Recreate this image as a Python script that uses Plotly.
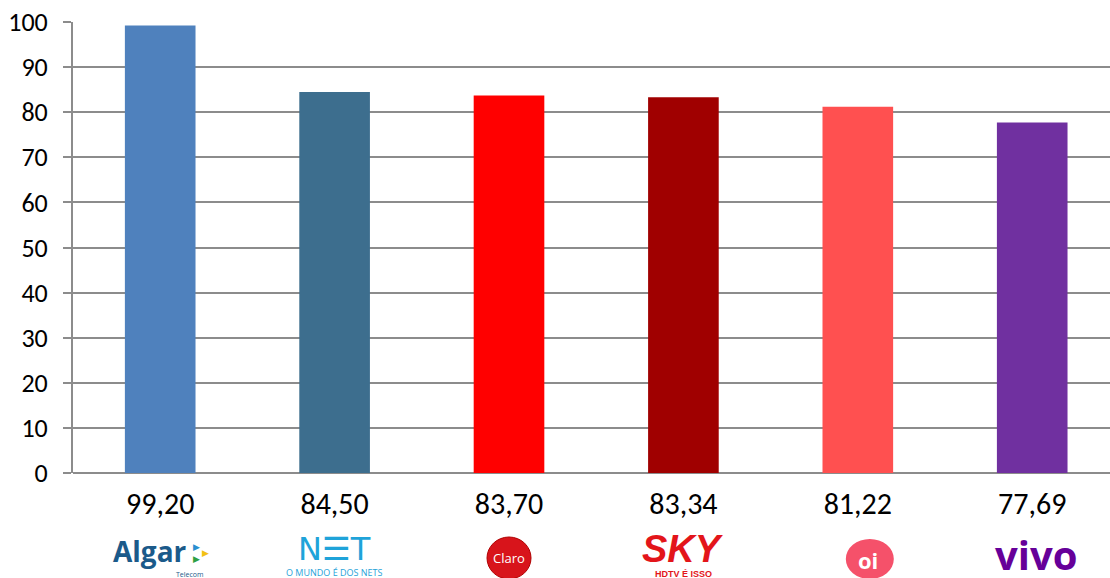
import plotly.graph_objects as go

companies = ["Algar", "NET", "Claro", "SKY", "Oi", "Vivo"]
scores = [99.20, 84.50, 83.70, 83.34, 81.22, 77.69]
bar_colors = ["#4F81BD", "#3D6E8E", "#FF0000", "#A00000", "#FF5050", "#7030A0"]
y_ticks = [0, 10, 20, 30, 40, 50, 60, 70, 80, 90, 100]

value_labels = [f"{v:.2f}".replace(".", ",") for v in scores]

FONT = "Carlito, Calibri, 'Open Sans', sans-serif"

fig = go.Figure()
fig.add_trace(go.Bar(
    x=companies, y=scores, marker=dict(color=bar_colors, line=dict(width=0)),
    width=0.405, hoverinfo="skip",
))

fig.update_layout(
    width=1110, height=578,
    margin=dict(l=73, r=0, t=22, b=105),
    paper_bgcolor="white", plot_bgcolor="white",
    showlegend=False,
    font=dict(family=FONT, color="black"),
    xaxis=dict(
        tickmode="array", tickvals=companies, ticktext=value_labels,
        range=[-0.5, 5.446],
        tickfont=dict(size=30, family=FONT), ticks="", showgrid=False,
        showline=False, zeroline=False, ticklabelstandoff=10,
    ),
    yaxis=dict(
        range=[0, 100], tickvals=y_ticks, tickfont=dict(size=26, family=FONT),
        showgrid=True, gridcolor="#8C8C8C", gridwidth=2,
        showline=True, linecolor="#8C8C8C", linewidth=2,
        ticks="outside", ticklen=8, tickcolor="#8C8C8C", tickwidth=2,
        zeroline=True, zerolinecolor="#8C8C8C", zerolinewidth=2,
        ticklabelstandoff=10,
    ),
)

ly = -0.1885


def logo_text(cat, text, size, color, family="Open Sans, sans-serif", dx=0, dy=0):
    fig.add_annotation(x=cat, y=ly, xref="x", yref="paper", xshift=dx, yshift=dy,
                       xanchor="center", yanchor="middle", showarrow=False,
                       text=text, font=dict(size=size, color=color, family=family))


# Algar
logo_text("Algar", "<b>Algar</b>", 28, "#1B5A8A", dx=-10, dy=7)
logo_text("Algar", "▶", 9, "#2A8FD0", dx=36, dy=12)
logo_text("Algar", "▶", 9, "#F2C014", dx=45, dy=6)
logo_text("Algar", "▶", 9, "#2EA043", dx=36, dy=0)
logo_text("Algar", "Telecom", 7, "#1B5A8A", dx=30, dy=-16)
# NET
logo_text("NET", "N☰T", 32, "#1FA3D9", family="DejaVu Sans, sans-serif", dy=9)
logo_text("NET", "O MUNDO É DOS NETS", 9, "#1FA3D9", dy=-14)
# Claro
fig.add_shape(type="circle", xref="x", yref="paper", xsizemode="pixel", ysizemode="pixel",
              xanchor="Claro", yanchor=ly, x0=-22, x1=22, y0=-21, y1=21,
              fillcolor="#D8141B", line=dict(color="#B00000", width=1))
logo_text("Claro", "Claro", 13, "white")
# SKY
logo_text("SKY", "<b><i>SKY</i></b>", 38, "#E3151A", family="Liberation Sans, sans-serif", dy=9)
logo_text("SKY", "<b>HDTV É ISSO</b>", 9, "#E3151A", family="Liberation Sans, sans-serif", dy=-16)
# Oi
fig.add_shape(type="circle", xref="x", yref="paper", xsizemode="pixel", ysizemode="pixel",
              xanchor="Oi", yanchor=ly, x0=-12, x1=36, y0=-21, y1=19,
              fillcolor="#F5516A", line=dict(width=0))
logo_text("Oi", "<b>oi</b>", 22, "white", dx=10, dy=-2)
# Vivo
logo_text("Vivo", "<b>vivo</b>", 40, "#660099", dx=4, dy=4)

fig.write_html("out.html")
